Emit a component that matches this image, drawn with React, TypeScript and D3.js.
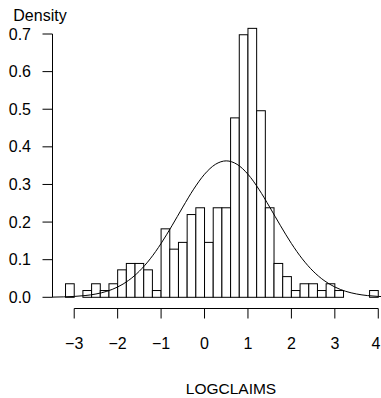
import * as d3 from "d3"

// histogram bins (lower edge) and their densities, bin width 0.2
const binStarts = [
  -3.2, -3.0, -2.8, -2.6, -2.4, -2.2, -2.0, -1.8, -1.6, -1.4, -1.2, -1.0,
  -0.8, -0.6, -0.4, -0.2, 0.0, 0.2, 0.4, 0.6, 0.8, 1.0, 1.2, 1.4,
  1.6, 1.8, 2.0, 2.2, 2.4, 2.6, 2.8, 3.0, 3.2, 3.4, 3.6, 3.8,
]
const densities = [
  0.036, 0, 0.018, 0.036, 0.018, 0.036, 0.073, 0.090, 0.090, 0.073, 0.018, 0.182,
  0.128, 0.146, 0.220, 0.238, 0.146, 0.238, 0.238, 0.477, 0.698, 0.715, 0.496, 0.238,
  0.090, 0.055, 0.018, 0.036, 0.036, 0.018, 0.036, 0.018, 0, 0, 0, 0.018,
]
const binWidth = 0.2

// fitted normal curve
const curveX = [
  -3.5, -3.25, -3.0, -2.75, -2.5, -2.25, -2.0, -1.75, -1.5, -1.25, -1.0, -0.75,
  -0.5, -0.25, 0.0, 0.25, 0.5, 0.75, 1.0, 1.25, 1.5, 1.75, 2.0, 2.25,
  2.5, 2.75, 3.0, 3.25, 3.5, 3.75, 4.0, 4.25,
]
const curveY = [
  0.0005, 0.0011, 0.0023, 0.0046, 0.0088, 0.0159, 0.0274, 0.0448, 0.0695, 0.1023, 0.1431, 0.1902,
  0.2399, 0.2875, 0.3271, 0.3534, 0.3627, 0.3534, 0.3271, 0.2875, 0.2399, 0.1902, 0.1431, 0.1023,
  0.0695, 0.0448, 0.0274, 0.0159, 0.0088, 0.0046, 0.0023, 0.0011,
]

const xTicks = [-3, -2, -1, 0, 1, 2, 3, 4]
const yTicks = [0, 0.1, 0.2, 0.3, 0.4, 0.5, 0.6, 0.7]
const xLabel = "LOGCLAIMS"
const yLabel = "Density"

export default function App() {
  const width = 381
  const height = 398
  const font = "'Liberation Sans', Arial, Helvetica, sans-serif"

  const x = d3.scaleLinear().domain([-3.5, 4.3]).range([52.5, 391.3])
  const y = d3.scaleLinear().domain([0, 0.7]).range([297.3, 34])

  const line = d3.line<number>()
    .x((_, i) => x(curveX[i]))
    .y(d => y(d))
    .curve(d3.curveMonotoneX)

  const axisY = 308.5
  const axisX = 52.5

  return (
    <svg width={width} height={height}
      style={{ position: "absolute", left: 0, top: 0, background: "#fff" }}
      fontFamily={font}>
      {binStarts.map((b, i) => (
        <rect key={i}
          x={x(b)} y={y(densities[i])}
          width={x(b + binWidth) - x(b)}
          height={y(0) - y(densities[i])}
          fill="#fff" stroke="#000" strokeWidth={1} />
      ))}
      <path d={line(curveY) || ""} fill="none" stroke="#000" strokeWidth={1} />

      {/* y axis */}
      <line x1={axisX} x2={axisX} y1={y(0)} y2={y(0.7)} stroke="#000" />
      {yTicks.map(t => (
        <g key={t}>
          <line x1={axisX - 10} x2={axisX} y1={y(t)} y2={y(t)} stroke="#000" />
          <text x={31} y={y(t)} textAnchor="end" dominantBaseline="central" fontSize={16}>
            {t.toFixed(1)}
          </text>
        </g>
      ))}
      <text x={40} y={21} textAnchor="middle" fontSize={16}>{yLabel}</text>

      {/* x axis */}
      <line x1={x(-3)} x2={x(4)} y1={axisY} y2={axisY} stroke="#000" />
      {xTicks.map((t, i) => {
        // last label sits at the window edge, keep it inside
        const last = i === xTicks.length - 1
        return (
          <g key={t}>
            <line x1={x(t)} x2={x(t)} y1={axisY} y2={axisY + 10} stroke="#000" />
            <text x={last ? width - 0.5 : x(t)} y={343}
              textAnchor={last ? "end" : "middle"} dominantBaseline="central" fontSize={16}>
              {t < 0 ? "\u2212" + Math.abs(t) : String(t)}
            </text>
          </g>
        )
      })}
      <text x={231} y={388} textAnchor="middle" dominantBaseline="central" fontSize={15.5}>{xLabel}</text>
    </svg>
  )
}
